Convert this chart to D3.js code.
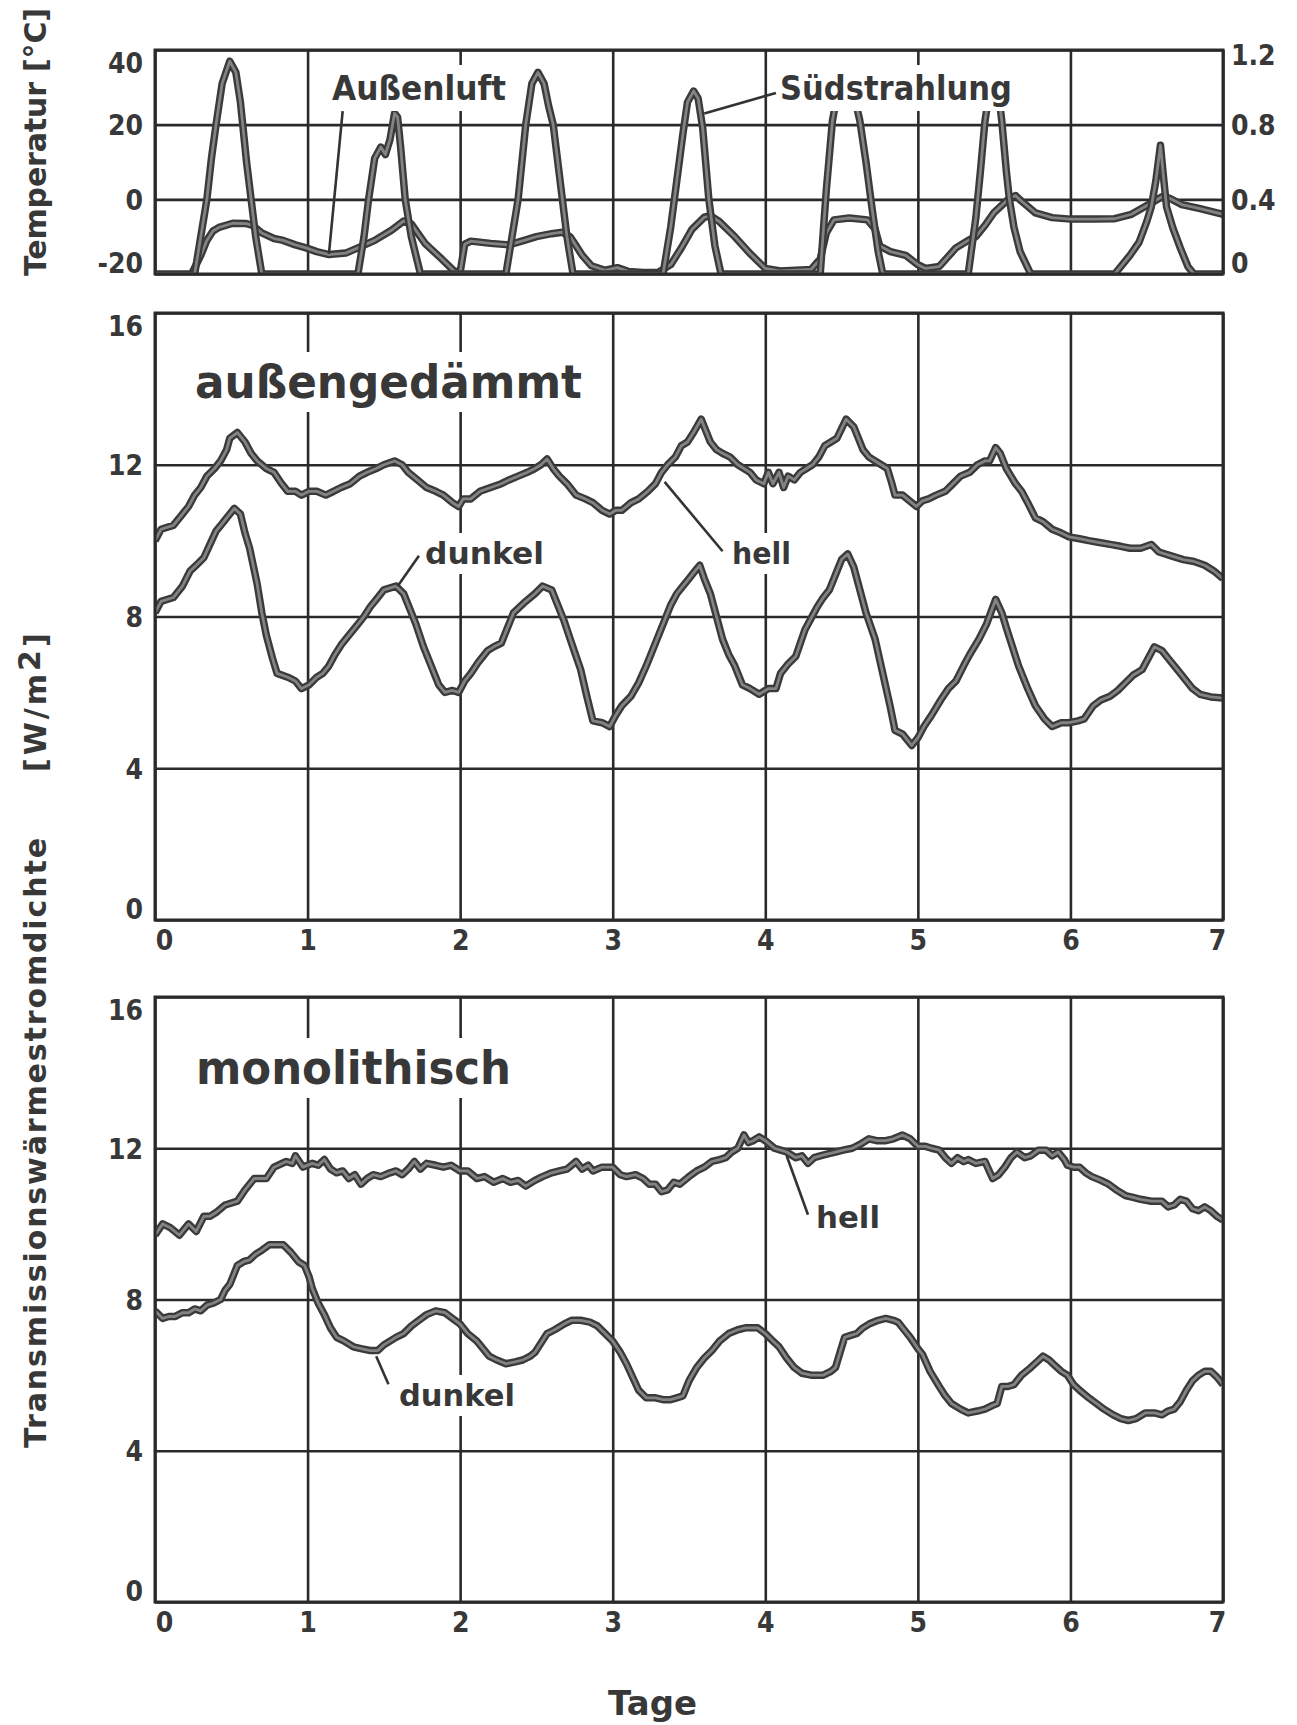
<!DOCTYPE html>
<html>
<head>
<meta charset="utf-8">
<script src="https://cdn.jsdelivr.net/npm/d3@7"></script>
<style>
  body { margin: 0; background: #fff; }
  text { font-family: "DejaVu Sans", sans-serif; font-weight: bold; fill: #383838; }
  .tick text { font-family: "DejaVu Sans Condensed", "DejaVu Sans", sans-serif; font-size: 28px; font-weight: bold; fill: #383838; }
</style>
</head>
<body>
<div id="chart"></div>
<script>
// [Tag, °C] Außenluft
var aussenluft = [[0.24,-20],[0.3,-15],[0.34,-11],[0.38,-8.5],[0.42,-7.5],[0.51,-6.4],[0.6,-6.5],[0.64,-7],[0.7,-9],[0.78,-10.5],[0.84,-11],[0.92,-12.2],[0.99,-13],[1.06,-14],[1.14,-14.8],[1.25,-14.4],[1.33,-13],[1.44,-11],[1.55,-8.3],[1.63,-5.8],[1.68,-6.6],[1.77,-11.8],[1.88,-16],[1.96,-19.2],[2.0,-19.5],[2.03,-12],[2.07,-11.2],[2.2,-11.8],[2.32,-12.2],[2.42,-11],[2.5,-10],[2.6,-9.2],[2.67,-8.8],[2.72,-10],[2.75,-11.8],[2.8,-15],[2.86,-17.8],[2.95,-19],[3.03,-18.3],[3.1,-19.3],[3.2,-19.6],[3.3,-19.5],[3.38,-17.5],[3.45,-13],[3.52,-8],[3.6,-4.8],[3.64,-4.4],[3.7,-6],[3.8,-10],[3.9,-14.5],[4.0,-18.5],[4.1,-19.2],[4.2,-19],[4.3,-18.8],[4.36,-16],[4.4,-9],[4.45,-5.5],[4.55,-5],[4.67,-5.5],[4.72,-8],[4.75,-12.5],[4.82,-14],[4.92,-15],[5.0,-17.5],[5.05,-18.5],[5.14,-18],[5.25,-13],[5.33,-11],[5.38,-10],[5.44,-7],[5.5,-3.5],[5.6,0.3],[5.64,1],[5.68,-0.5],[5.77,-3.6],[5.88,-4.9],[6.0,-5.3],[6.15,-5.3],[6.29,-5.2],[6.4,-4],[6.53,-1],[6.6,0.7],[6.65,0.3],[6.73,-1.4],[6.85,-2.5],[7.0,-4]];

// [Tag, rechte Achse] Südstrahlung
var suedstrahlung = [[0,0],[0.26,0],[0.30,0.2],[0.34,0.4],[0.37,0.62],[0.40,0.8],[0.44,1.02],[0.49,1.14],[0.53,1.08],[0.56,0.92],[0.575,0.8],[0.6,0.6],[0.63,0.4],[0.66,0.2],[0.70,0],[1.33,0],[1.37,0.2],[1.40,0.4],[1.44,0.62],[1.48,0.68],[1.51,0.64],[1.54,0.72],[1.57,0.86],[1.59,0.84],[1.61,0.68],[1.64,0.4],[1.68,0.2],[1.74,0],[2.30,0],[2.34,0.2],[2.38,0.4],[2.43,0.8],[2.47,1.02],[2.51,1.08],[2.55,1.02],[2.58,0.9],[2.61,0.8],[2.64,0.6],[2.67,0.4],[2.70,0.2],[2.74,0],[3.33,0],[3.38,0.25],[3.42,0.5],[3.46,0.75],[3.49,0.92],[3.53,0.98],[3.56,0.94],[3.59,0.78],[3.63,0.4],[3.67,0.15],[3.71,0],[4.36,0],[4.40,0.45],[4.44,0.82],[4.48,1.0],[4.52,1.06],[4.57,1.0],[4.62,0.82],[4.66,0.6],[4.7,0.35],[4.74,0.12],[4.77,0],[5.33,0],[5.38,0.3],[5.41,0.55],[5.44,0.82],[5.47,0.98],[5.5,1.03],[5.53,0.96],[5.55,0.82],[5.58,0.55],[5.6,0.4],[5.63,0.25],[5.67,0.12],[5.74,0],[6.29,0],[6.35,0.06],[6.39,0.1],[6.45,0.17],[6.5,0.28],[6.53,0.36],[6.56,0.5],[6.59,0.69],[6.61,0.52],[6.63,0.36],[6.67,0.25],[6.72,0.14],[6.77,0.04],[6.81,0],[7,0]];

// außengedämmt [Tag, W/m2]
var aussenHell = [[0,10.0],[0.04,10.3],[0.12,10.4],[0.18,10.7],[0.22,10.9],[0.26,11.2],[0.3,11.4],[0.34,11.7],[0.39,11.9],[0.43,12.1],[0.47,12.4],[0.49,12.7],[0.54,12.85],[0.59,12.6],[0.63,12.3],[0.67,12.1],[0.73,11.9],[0.78,11.8],[0.83,11.5],[0.87,11.3],[0.92,11.3],[0.96,11.2],[1.01,11.3],[1.06,11.3],[1.12,11.2],[1.17,11.3],[1.22,11.4],[1.28,11.5],[1.34,11.7],[1.39,11.8],[1.45,11.9],[1.5,12.0],[1.57,12.1],[1.62,12.0],[1.66,11.8],[1.72,11.6],[1.78,11.4],[1.84,11.3],[1.89,11.2],[1.95,11.0],[1.99,10.9],[2.02,11.1],[2.07,11.1],[2.13,11.3],[2.2,11.4],[2.27,11.5],[2.32,11.6],[2.38,11.7],[2.44,11.8],[2.49,11.9],[2.53,12.0],[2.57,12.15],[2.61,11.9],[2.65,11.7],[2.7,11.5],[2.76,11.2],[2.82,11.1],[2.87,11.0],[2.93,10.8],[2.98,10.7],[3.02,10.8],[3.06,10.8],[3.12,11.0],[3.17,11.1],[3.23,11.3],[3.28,11.5],[3.32,11.8],[3.36,12.0],[3.41,12.2],[3.45,12.5],[3.49,12.6],[3.53,12.85],[3.58,13.2],[3.61,12.9],[3.64,12.6],[3.68,12.4],[3.72,12.3],[3.77,12.2],[3.82,12.0],[3.86,11.9],[3.9,11.8],[3.94,11.6],[3.99,11.5],[4.02,11.8],[4.05,11.5],[4.09,11.8],[4.12,11.4],[4.15,11.7],[4.19,11.6],[4.23,11.8],[4.27,11.9],[4.31,12.0],[4.35,12.2],[4.39,12.5],[4.43,12.6],[4.47,12.7],[4.53,13.2],[4.58,13.0],[4.61,12.7],[4.64,12.4],[4.68,12.2],[4.72,12.1],[4.76,12.0],[4.8,11.9],[4.83,11.5],[4.85,11.2],[4.9,11.2],[4.96,11.0],[4.99,10.9],[5.03,11.05],[5.07,11.1],[5.12,11.2],[5.18,11.3],[5.23,11.5],[5.28,11.7],[5.34,11.8],[5.39,12.0],[5.44,12.1],[5.47,12.1],[5.51,12.45],[5.54,12.3],[5.58,11.9],[5.61,11.7],[5.64,11.5],[5.68,11.3],[5.72,11.0],[5.77,10.6],[5.82,10.5],[5.88,10.3],[5.94,10.2],[5.99,10.1],[6.06,10.05],[6.12,10.0],[6.19,9.95],[6.26,9.9],[6.33,9.85],[6.39,9.8],[6.46,9.8],[6.53,9.9],[6.58,9.7],[6.66,9.6],[6.74,9.5],[6.81,9.45],[6.88,9.35],[6.94,9.2],[7.0,9.0]];

var aussenDunkel = [[0,8.1],[0.04,8.4],[0.12,8.5],[0.18,8.8],[0.23,9.2],[0.27,9.35],[0.32,9.55],[0.36,9.9],[0.4,10.25],[0.44,10.45],[0.47,10.6],[0.52,10.85],[0.56,10.7],[0.59,10.2],[0.62,9.8],[0.67,8.85],[0.7,8.1],[0.73,7.5],[0.77,6.9],[0.8,6.5],[0.87,6.4],[0.92,6.3],[0.96,6.1],[1.01,6.2],[1.06,6.4],[1.1,6.5],[1.14,6.7],[1.18,7.0],[1.22,7.25],[1.27,7.5],[1.33,7.8],[1.37,8.0],[1.41,8.25],[1.46,8.5],[1.5,8.7],[1.58,8.8],[1.63,8.6],[1.67,8.2],[1.71,7.8],[1.76,7.2],[1.82,6.6],[1.86,6.2],[1.9,6.0],[1.95,6.05],[1.99,6.0],[2.03,6.3],[2.07,6.5],[2.12,6.8],[2.18,7.1],[2.22,7.2],[2.27,7.3],[2.31,7.7],[2.35,8.1],[2.39,8.25],[2.43,8.4],[2.49,8.6],[2.54,8.8],[2.6,8.7],[2.64,8.3],[2.68,7.9],[2.73,7.3],[2.79,6.6],[2.83,5.9],[2.87,5.25],[2.93,5.2],[2.98,5.1],[3.02,5.4],[3.06,5.65],[3.12,5.9],[3.17,6.25],[3.22,6.7],[3.28,7.3],[3.34,7.9],[3.38,8.3],[3.42,8.6],[3.46,8.8],[3.5,9.0],[3.54,9.2],[3.57,9.35],[3.6,9.0],[3.64,8.6],[3.68,8.0],[3.72,7.4],[3.76,7.0],[3.8,6.7],[3.85,6.2],[3.9,6.1],[3.96,5.95],[4.02,6.1],[4.07,6.1],[4.1,6.5],[4.15,6.75],[4.2,6.95],[4.23,7.3],[4.26,7.65],[4.3,7.95],[4.34,8.25],[4.38,8.5],[4.42,8.7],[4.46,9.1],[4.5,9.5],[4.54,9.65],[4.58,9.3],[4.61,8.85],[4.66,8.1],[4.72,7.4],[4.77,6.5],[4.82,5.6],[4.85,5.0],[4.9,4.9],[4.96,4.6],[5.0,4.8],[5.04,5.1],[5.09,5.4],[5.15,5.8],[5.2,6.1],[5.25,6.3],[5.3,6.7],[5.34,7.0],[5.4,7.4],[5.45,7.8],[5.51,8.45],[5.55,8.1],[5.58,7.7],[5.62,7.2],[5.66,6.7],[5.72,6.1],[5.77,5.65],[5.83,5.3],[5.88,5.1],[5.94,5.2],[5.99,5.2],[6.05,5.25],[6.09,5.3],[6.15,5.65],[6.2,5.8],[6.26,5.9],[6.31,6.05],[6.36,6.25],[6.41,6.45],[6.47,6.6],[6.51,6.9],[6.55,7.2],[6.6,7.1],[6.64,6.9],[6.69,6.65],[6.74,6.4],[6.8,6.1],[6.85,5.95],[6.92,5.88],[7.0,5.85]];

// monolithisch [Tag, W/m2]
var monoHell = [[0,9.7],[0.05,10.0],[0.1,9.9],[0.16,9.7],[0.22,10.0],[0.27,9.8],[0.32,10.2],[0.36,10.2],[0.4,10.3],[0.46,10.5],[0.54,10.6],[0.59,10.9],[0.65,11.2],[0.73,11.2],[0.78,11.5],[0.86,11.65],[0.9,11.6],[0.92,11.8],[0.97,11.5],[1.03,11.6],[1.07,11.55],[1.11,11.7],[1.15,11.45],[1.19,11.35],[1.23,11.4],[1.27,11.2],[1.31,11.3],[1.35,11.05],[1.39,11.2],[1.43,11.3],[1.48,11.25],[1.54,11.35],[1.58,11.4],[1.62,11.3],[1.66,11.45],[1.7,11.65],[1.74,11.45],[1.78,11.6],[1.84,11.55],[1.89,11.5],[1.94,11.55],[2.0,11.4],[2.05,11.4],[2.11,11.2],[2.16,11.25],[2.22,11.1],[2.28,11.2],[2.33,11.1],[2.38,11.15],[2.43,11.0],[2.49,11.15],[2.54,11.25],[2.6,11.35],[2.65,11.4],[2.7,11.45],[2.76,11.65],[2.8,11.45],[2.84,11.55],[2.87,11.4],[2.93,11.5],[3.0,11.5],[3.05,11.3],[3.09,11.25],[3.15,11.3],[3.2,11.2],[3.24,11.05],[3.28,11.05],[3.32,10.85],[3.36,10.9],[3.4,11.1],[3.44,11.05],[3.5,11.25],[3.55,11.4],[3.6,11.5],[3.65,11.65],[3.7,11.7],[3.74,11.75],[3.78,11.9],[3.82,12.0],[3.86,12.35],[3.89,12.15],[3.92,12.2],[3.96,12.3],[4.0,12.2],[4.06,12.0],[4.1,11.95],[4.14,11.9],[4.2,11.75],[4.24,11.8],[4.28,11.6],[4.32,11.75],[4.36,11.8],[4.41,11.85],[4.46,11.9],[4.51,11.95],[4.57,12.0],[4.62,12.1],[4.68,12.25],[4.73,12.2],[4.79,12.2],[4.84,12.25],[4.9,12.35],[4.95,12.25],[5.0,12.05],[5.05,12.05],[5.09,12.0],[5.14,11.95],[5.18,11.75],[5.22,11.6],[5.26,11.75],[5.3,11.65],[5.33,11.7],[5.38,11.6],[5.44,11.65],[5.49,11.2],[5.53,11.3],[5.57,11.5],[5.61,11.75],[5.65,11.9],[5.7,11.75],[5.74,11.8],[5.79,11.95],[5.84,11.95],[5.88,11.8],[5.92,11.9],[5.96,11.7],[5.98,11.55],[6.02,11.5],[6.06,11.5],[6.1,11.35],[6.14,11.25],[6.2,11.15],[6.25,11.05],[6.3,10.9],[6.36,10.75],[6.41,10.7],[6.46,10.65],[6.53,10.6],[6.6,10.6],[6.64,10.45],[6.68,10.5],[6.72,10.65],[6.76,10.6],[6.8,10.4],[6.84,10.35],[6.88,10.45],[6.92,10.35],[6.96,10.2],[7.0,10.1]];

var monoDunkel = [[0,7.7],[0.05,7.5],[0.09,7.55],[0.13,7.55],[0.18,7.65],[0.22,7.65],[0.26,7.75],[0.3,7.7],[0.34,7.85],[0.38,7.9],[0.43,8.0],[0.46,8.25],[0.49,8.4],[0.52,8.7],[0.54,8.9],[0.58,9.0],[0.62,9.05],[0.66,9.2],[0.7,9.3],[0.75,9.45],[0.79,9.45],[0.84,9.45],[0.89,9.25],[0.94,9.0],[0.98,8.9],[1.01,8.6],[1.03,8.3],[1.07,7.9],[1.11,7.6],[1.15,7.25],[1.19,7.0],[1.24,6.9],[1.3,6.75],[1.35,6.7],[1.41,6.65],[1.46,6.65],[1.5,6.8],[1.54,6.9],[1.58,7.0],[1.63,7.1],[1.68,7.3],[1.73,7.45],[1.78,7.6],[1.84,7.7],[1.9,7.65],[1.95,7.5],[2.0,7.35],[2.05,7.1],[2.11,6.9],[2.15,6.7],[2.19,6.5],[2.24,6.4],[2.3,6.3],[2.36,6.35],[2.41,6.4],[2.46,6.5],[2.49,6.6],[2.53,6.85],[2.57,7.1],[2.62,7.2],[2.68,7.35],[2.73,7.45],[2.79,7.45],[2.85,7.4],[2.9,7.3],[2.95,7.1],[3.0,6.9],[3.05,6.6],[3.09,6.3],[3.13,5.95],[3.17,5.6],[3.22,5.4],[3.28,5.4],[3.33,5.35],[3.38,5.35],[3.42,5.4],[3.46,5.45],[3.5,5.85],[3.55,6.2],[3.6,6.45],[3.65,6.65],[3.7,6.9],[3.76,7.1],[3.82,7.2],[3.87,7.25],[3.95,7.25],[4.0,7.1],[4.05,6.9],[4.09,6.75],[4.14,6.45],[4.19,6.2],[4.24,6.05],[4.3,6.0],[4.38,6.0],[4.43,6.1],[4.46,6.2],[4.49,6.6],[4.52,7.0],[4.56,7.05],[4.6,7.1],[4.64,7.25],[4.68,7.35],[4.74,7.45],[4.79,7.5],[4.84,7.45],[4.87,7.4],[4.91,7.2],[4.95,7.0],[5.0,6.7],[5.03,6.55],[5.08,6.1],[5.14,5.7],[5.18,5.45],[5.22,5.25],[5.28,5.1],[5.33,5.0],[5.39,5.05],[5.44,5.1],[5.49,5.2],[5.52,5.25],[5.55,5.7],[5.59,5.7],[5.63,5.75],[5.68,6.0],[5.74,6.2],[5.78,6.35],[5.82,6.5],[5.86,6.4],[5.9,6.25],[5.94,6.1],[5.98,6.0],[6.02,5.75],[6.06,5.6],[6.12,5.4],[6.17,5.25],[6.22,5.1],[6.28,4.95],[6.33,4.85],[6.38,4.8],[6.43,4.85],[6.49,5.0],[6.55,5.0],[6.6,4.95],[6.64,5.05],[6.68,5.1],[6.72,5.3],[6.76,5.6],[6.8,5.85],[6.84,6.0],[6.88,6.1],[6.92,6.1],[6.96,5.95],[7.0,5.75]];

// ticks
var tageTicks = [0, 1, 2, 3, 4, 5, 6, 7];
var tempTicks = [-20, 0, 20, 40];
var strahlTicks = [0, 0.4, 0.8, 1.2];
var stromTicks = [0, 4, 8, 12, 16];

var svgWidth = 1297;
var svgHeight = 1725;

var svg = d3.select('#chart').append('svg')
  .attr('width', svgWidth)
  .attr('height', svgHeight);

svg.append('rect').attr('width', svgWidth).attr('height', svgHeight).attr('fill', '#fff');

var left = 155, right = 1223;
var xScale = d3.scaleLinear().domain([0, 7]).range([left, right]);

// panels: top / bottom pixel edges
var tempScale = d3.scaleLinear().domain([-20, 40]).range([274, 50]);
var strahlScale = d3.scaleLinear().domain([0, 1.2]).range([274, 50]);
var aussenScale = d3.scaleLinear().domain([0, 16]).range([920, 313]);
var monoScale = d3.scaleLinear().domain([0, 16]).range([1602, 997]);

function drawGrid(id, yScale, yTicks, showX) {
  var top = yScale.range()[1], bottom = yScale.range()[0];
  var g = svg.append('g').attr('id', id);

  var xAxis = d3.axisBottom(xScale)
    .tickValues(tageTicks)
    .tickSize(-(bottom - top))
    .tickPadding(10)
    .tickFormat(showX ? d3.format('d') : '');
  g.append('g')
    .attr('transform', `translate(0, ${bottom})`)
    .call(xAxis)
    .call(a => a.selectAll('text').attr('dx', d => d === 0 ? 9 : (d === 7 ? -6 : 0)));

  // plain hyphen for negatives, like the original lettering
  var yAxis = d3.axisLeft(yScale)
    .tickValues(yTicks)
    .tickSize(-(right - left))
    .tickPadding(12)
    .tickFormat(d => String(d));
  g.append('g')
    .attr('transform', `translate(${left}, 0)`)
    .call(yAxis)
    .call(a => a.selectAll('text')
      .attr('dy', (d, i) => i === 0 ? '-0.05em' : (i === yTicks.length - 1 ? '0.8em' : '0.35em')));

  g.selectAll('.domain').remove();
  g.selectAll('.tick line').attr('stroke', '#2a2a2a').attr('stroke-width', 2.6);

  // clip for series
  svg.append('clipPath').attr('id', id + '-clip')
    .append('rect')
    .attr('x', left).attr('y', top)
    .attr('width', right - left).attr('height', bottom - top);

  return g;
}

function drawBorder(g, yScale) {
  var top = yScale.range()[1], bottom = yScale.range()[0];
  g.append('rect')
    .attr('x', left).attr('y', top)
    .attr('width', right - left).attr('height', bottom - top)
    .attr('fill', 'none')
    .attr('stroke', '#2a2a2a')
    .attr('stroke-width', 3);
}

function drawSeries(g, id, data, yScale) {
  var line = d3.line()
    .x(d => xScale(d[0]))
    .y(d => yScale(d[1]));
  var s = g.append('g').attr('clip-path', `url(#${id}-clip)`);
  s.append('path')
    .attr('d', line(data))
    .attr('fill', 'none')
    .attr('stroke', '#3a3a3a')
    .attr('stroke-width', 7.5)
    .attr('stroke-linejoin', 'round');
  s.append('path')
    .attr('d', line(data))
    .attr('fill', 'none')
    .attr('stroke', '#838383')
    .attr('stroke-width', 2.8)
    .attr('stroke-linejoin', 'round');
}

// label with white box behind it (knocks out grid like the original)
function addLabel(g, txt, x, y, size, len) {
  var t = g.append('text')
    .attr('x', x).attr('y', y)
    .attr('font-size', size)
    .text(txt);
  if (len) t.attr('textLength', len).attr('lengthAdjust', 'spacingAndGlyphs');
  var bb = t.node().getBBox();
  g.insert('rect', () => t.node())
    .attr('x', bb.x - 4).attr('y', bb.y - 3)
    .attr('width', bb.width + 8).attr('height', bb.height + 6)
    .attr('fill', '#fff');
  return t;
}

function leader(g, p1, p2, yScale) {
  g.append('line')
    .attr('x1', xScale(p1[0])).attr('y1', yScale(p1[1]))
    .attr('x2', xScale(p2[0])).attr('y2', yScale(p2[1]))
    .attr('stroke', '#333')
    .attr('stroke-width', 2.6);
}

// ---- Temperatur / Strahlung ----
var gTop = drawGrid('temp', tempScale, tempTicks, false);
drawSeries(gTop, 'temp', aussenluft, tempScale);
drawSeries(gTop, 'temp', suedstrahlung, strahlScale);

gTop.append('g')
  .attr('transform', `translate(${right}, 0)`)
  .call(d3.axisRight(strahlScale).tickValues(strahlTicks).tickSize(0).tickPadding(8)
    .tickFormat(d => d === 0 ? '0' : d3.format('.1f')(d)))
  .call(a => a.select('.domain').remove())
  .call(a => a.selectAll('text')
    .attr('dy', (d, i) => i === 0 ? '-0.05em' : (i === strahlTicks.length - 1 ? '0.5em' : '0.35em')));

addLabel(gTop, 'Außenluft', 332, 100, 34, 174);
addLabel(gTop, 'Südstrahlung', 780, 100, 34, 232);
leader(gTop, [1.23, 23.6], [1.14, -14.6], tempScale);
leader(gTop, [4.07, 0.97], [3.60, 0.86], strahlScale);
drawBorder(gTop, tempScale);

// ---- außengedämmt ----
var gMid = drawGrid('aussen', aussenScale, stromTicks, true);
drawSeries(gMid, 'aussen', aussenHell, aussenScale);
drawSeries(gMid, 'aussen', aussenDunkel, aussenScale);
addLabel(gMid, 'außengedämmt', 195, 398, 46, 387);
addLabel(gMid, 'dunkel', 425, 564, 30, 119);
addLabel(gMid, 'hell', 732, 564, 30, 59);
leader(gMid, [1.73, 9.6], [1.59, 8.8], aussenScale);
leader(gMid, [3.72, 9.72], [3.34, 11.55], aussenScale);
drawBorder(gMid, aussenScale);

// ---- monolithisch ----
var gLow = drawGrid('mono', monoScale, stromTicks, true);
drawSeries(gLow, 'mono', monoHell, monoScale);
drawSeries(gLow, 'mono', monoDunkel, monoScale);
addLabel(gLow, 'monolithisch', 196, 1084, 46, 315);
addLabel(gLow, 'dunkel', 399, 1406, 30, 116);
addLabel(gLow, 'hell', 816, 1228, 30, 64);
leader(gLow, [1.53, 5.76], [1.45, 6.5], monoScale);
leader(gLow, [4.28, 10.24], [4.14, 11.8], monoScale);
drawBorder(gLow, monoScale);

// axis titles
svg.append('text')
  .attr('transform', 'translate(46, 276) rotate(-90)')
  .attr('font-size', 30)
  .attr('textLength', 268)
  .attr('lengthAdjust', 'spacing')
  .text('Temperatur [°C]');

svg.append('text')
  .attr('transform', 'translate(46, 1448) rotate(-90)')
  .attr('font-size', 30)
  .attr('textLength', 610)
  .attr('lengthAdjust', 'spacing')
  .text('Transmissionswärmestromdichte');

var unit = svg.append('text')
  .attr('transform', 'translate(46, 772) rotate(-90)')
  .attr('font-size', 30)
  .attr('letter-spacing', 3);
unit.append('tspan').text('[W/m');
unit.append('tspan').attr('dy', -6).text('2');
unit.append('tspan').attr('dy', 6).text(']');

svg.append('text')
  .attr('x', 608)
  .attr('y', 1715)
  .attr('font-size', 34)
  .attr('textLength', 89)
  .attr('lengthAdjust', 'spacingAndGlyphs')
  .text('Tage');
</script>
</body>
</html>
